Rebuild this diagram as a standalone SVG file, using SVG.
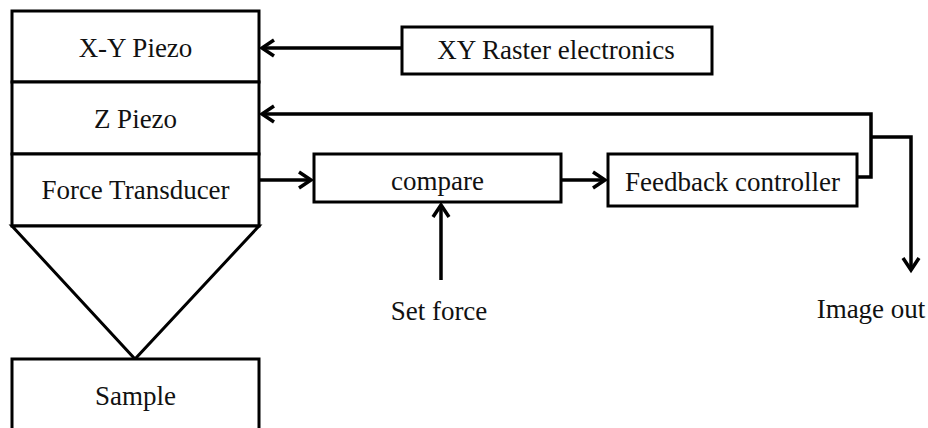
<svg xmlns="http://www.w3.org/2000/svg" width="928" height="428" viewBox="0 0 928 428">
<style>
.box{fill:#fff;stroke:#000;stroke-width:3}
.ln{fill:none;stroke:#000;stroke-width:3.5}
.t{font-family:"Liberation Serif","Times New Roman",serif;font-size:27px;fill:#111;text-anchor:middle}
</style>
<defs>
<marker id="ah" markerUnits="userSpaceOnUse" viewBox="-16 -10 20 20" refX="0" refY="0" markerWidth="20" markerHeight="20" orient="auto">
<path d="M-12,-8 L0,0 L-12,8" fill="none" stroke="#000" stroke-width="3.5"/>
</marker>
</defs>
<rect width="928" height="428" fill="#fff"/>
<g id="xy-piezo"><rect class="box" x="12" y="11" width="247" height="71"/><text class="t" x="135.5" y="57">X-Y Piezo</text></g>
<g id="z-piezo"><rect class="box" x="12" y="82" width="247" height="72"/><text class="t" x="135.5" y="128">Z Piezo</text></g>
<g id="force-transducer"><rect class="box" x="12" y="154" width="247" height="72"/><text class="t" x="135.5" y="199">Force Transducer</text></g>
<g id="tip"><path class="box" d="M12,226 L259,226 L135,359 Z"/></g>
<g id="sample"><rect class="box" x="12" y="359" width="247" height="75"/><text class="t" x="135.5" y="405">Sample</text></g>
<g id="xy-raster"><rect class="box" x="402" y="27" width="310" height="47"/><text class="t" x="556" y="59">XY Raster electronics</text></g>
<g id="compare"><rect class="box" x="314" y="154" width="247" height="48"/><text class="t" x="437.5" y="190">compare</text></g>
<g id="feedback"><rect class="box" x="608" y="154" width="249" height="52"/><text class="t" x="732.5" y="191">Feedback controller</text></g>
<g id="set-force"><text class="t" x="439" y="320">Set force</text></g>
<g id="image-out"><text class="t" x="871" y="318">Image out</text></g>
<g id="connectors">
<path class="ln" d="M402,48 L262,48" marker-end="url(#ah)"/>
<path class="ln" d="M857,177 L871,177 L871,114 L262,114" marker-end="url(#ah)"/>
<path class="ln" d="M871,137 L911,137 L911,270" marker-end="url(#ah)"/>
<path class="ln" d="M259,180 L311,180" marker-end="url(#ah)"/>
<path class="ln" d="M561,180 L605,180" marker-end="url(#ah)"/>
<path class="ln" d="M441,280 L441,205" marker-end="url(#ah)"/>
</g>
</svg>
